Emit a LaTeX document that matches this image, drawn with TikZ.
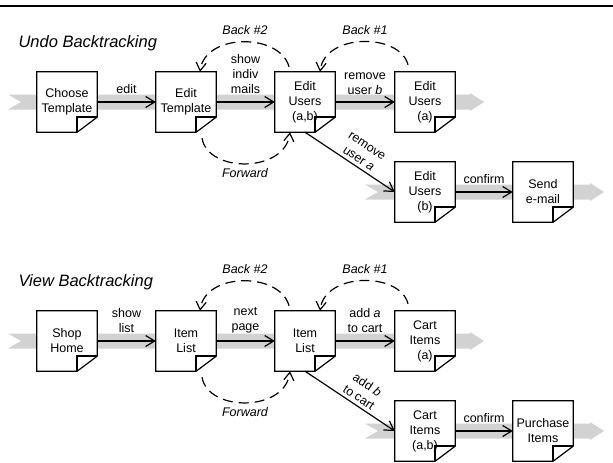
\documentclass[tikz,border=0pt]{standalone}
\usepackage{fontspec}
\setmainfont{Liberation Sans}
\usetikzlibrary{arrows.meta,calc}

\begin{document}
\begin{tikzpicture}[x=1pt, y=-1pt,
  page/.style={fill=white, minimum width=60pt, minimum height=60pt, inner sep=0pt, align=center, font=\fontsize{12.5}{15}\selectfont},
  flow/.style={-{Straight Barb[length=9pt,width=11pt]}, line width=1.2pt},
  back/.style={-{Straight Barb[length=8pt,width=10pt]}, line width=1.2pt, dash pattern=on 10pt off 6pt},
  lbl/.style={font=\fontsize{12.5}{15}\selectfont, align=center},
  tag/.style={font=\fontsize{12.5}{15}\selectfont\itshape},
  title/.style={font=\fontsize{16.5}{18}\selectfont\itshape, anchor=west},
  band/.style={fill=gray!35, draw=none}
]
\useasboundingbox (0,0) rectangle (613,463);
\draw[line width=1.5pt] (0,6) -- (613,6);

% Gray flow bands (behind the pages)
\foreach \xa/\xb/\yc in {8/484/102, 365/604/192, 8/484/341, 365/604/431}
  \fill[band] (\xa,\yc-7.5) -- (\xb-14,\yc-7.5) -- (\xb-14,\yc-9) -- (\xb,\yc)
    -- (\xb-14,\yc+9) -- (\xb-14,\yc+7.5) -- (\xa,\yc+7.5) -- (\xa+13,\yc) -- cycle;

% Undo backtracking
\node[title] (undo) at (15,43) {Undo Backtracking};
\node[page] (choose) at (67,102) {Choose\\Template};
\node[page] (edtpl) at (186,102) {Edit\\Template};
\node[page] (edusr) at (305,102) {Edit\\Users\\(a,b)};
\node[page] (usra) at (425,102) {Edit\\Users\\(a)};
\node[page] (usrb) at (425,192) {Edit\\Users\\(b)};
\node[page] (send) at (543,192) {Send\\e-mail};

% View backtracking
\node[title] (view) at (15,282) {View Backtracking};
\node[page] (shop) at (67,341) {Shop\\Home};
\node[page] (lista) at (186,341) {Item\\List};
\node[page] (listb) at (305,341) {Item\\List};
\node[page] (carta) at (425,341) {Cart\\Items\\(a)};
\node[page] (cartb) at (425,431) {Cart\\Items\\(a,b)};
\node[page] (buy) at (543,431) {Purchase\\Items};

% Page outlines with folded corner
\foreach \n in {choose,edtpl,edusr,usra,usrb,send,shop,lista,listb,carta,cartb,buy} {
  \draw[line width=1.2pt] (\n.north west) -- (\n.north east) -- ([yshift=15pt]\n.south east)
    -- ([xshift=-20pt]\n.south east) -- (\n.south west) -- cycle;
  \draw[line width=1.6pt] ([xshift=-20pt]\n.south east) -- ([xshift=-20pt,yshift=15pt]\n.south east)
    -- ([yshift=15pt]\n.south east);
}

% Forward steps, upper part
\draw[flow] (choose.east) -- node[lbl, above=4pt] {edit} (edtpl.west);
\draw[flow] (edtpl.east) -- node[lbl, above=4pt] {show\\indiv\\mails} (edusr.west);
\draw[flow] (edusr.east) -- node[lbl, above=3pt] {remove\\user \textit{b}} (usra.west);
\draw[flow] (edusr.south) -- node[lbl, sloped, above, pos=0.55] {remove\\user \textit{a}} (usrb.west);
\draw[flow] (usrb.east) -- node[lbl, above=4pt] {confirm} (send.west);

% Forward steps, lower part
\draw[flow] (shop.east) -- node[lbl, above=4pt] {show\\list} (lista.west);
\draw[flow] (lista.east) -- node[lbl, above=4pt] {next\\page} (listb.west);
\draw[flow] (listb.east) -- node[lbl, above=4pt] {add \textit{a}\\to cart} (carta.west);
\draw[flow] (listb.south) -- node[lbl, sloped, above, pos=0.55] {add \textit{b}\\to cart} (cartb.west);
\draw[flow] (cartb.east) -- node[lbl, above=4pt] {confirm} (buy.west);

% Back / forward loops, upper part
\draw[back] ([xshift=-16pt,yshift=5pt]edusr.north) .. controls +(-9,-34) and +(5,-39) .. ([xshift=14pt]edtpl.north);
\draw[back] ([xshift=16pt,yshift=-6pt]edtpl.south) .. controls +(6,35) and +(-5,41) .. ([xshift=-15pt]edusr.south);
\draw[back] ([xshift=-17pt,yshift=7pt]usra.north) .. controls +(-8,-32) and +(5,-39) .. ([xshift=15pt]edusr.north);
\node[tag] (back2u) at (245,30) {Back \#2};
\node[tag] (fwdu) at (245,173) {Forward};
\node[tag] (back1u) at (365,30) {Back \#1};

% Back / forward loops, lower part
\draw[back] ([xshift=-16pt,yshift=5pt]listb.north) .. controls +(-9,-34) and +(5,-39) .. ([xshift=14pt]lista.north);
\draw[back] ([xshift=16pt,yshift=-6pt]lista.south) .. controls +(6,35) and +(-5,41) .. ([xshift=-15pt]listb.south);
\draw[back] ([xshift=-17pt,yshift=7pt]carta.north) .. controls +(-8,-32) and +(5,-39) .. ([xshift=15pt]listb.north);
\node[tag] (back2v) at (245,269) {Back \#2};
\node[tag] (fwdv) at (245,412) {Forward};
\node[tag] (back1v) at (365,269) {Back \#1};
\end{tikzpicture}
\end{document}
